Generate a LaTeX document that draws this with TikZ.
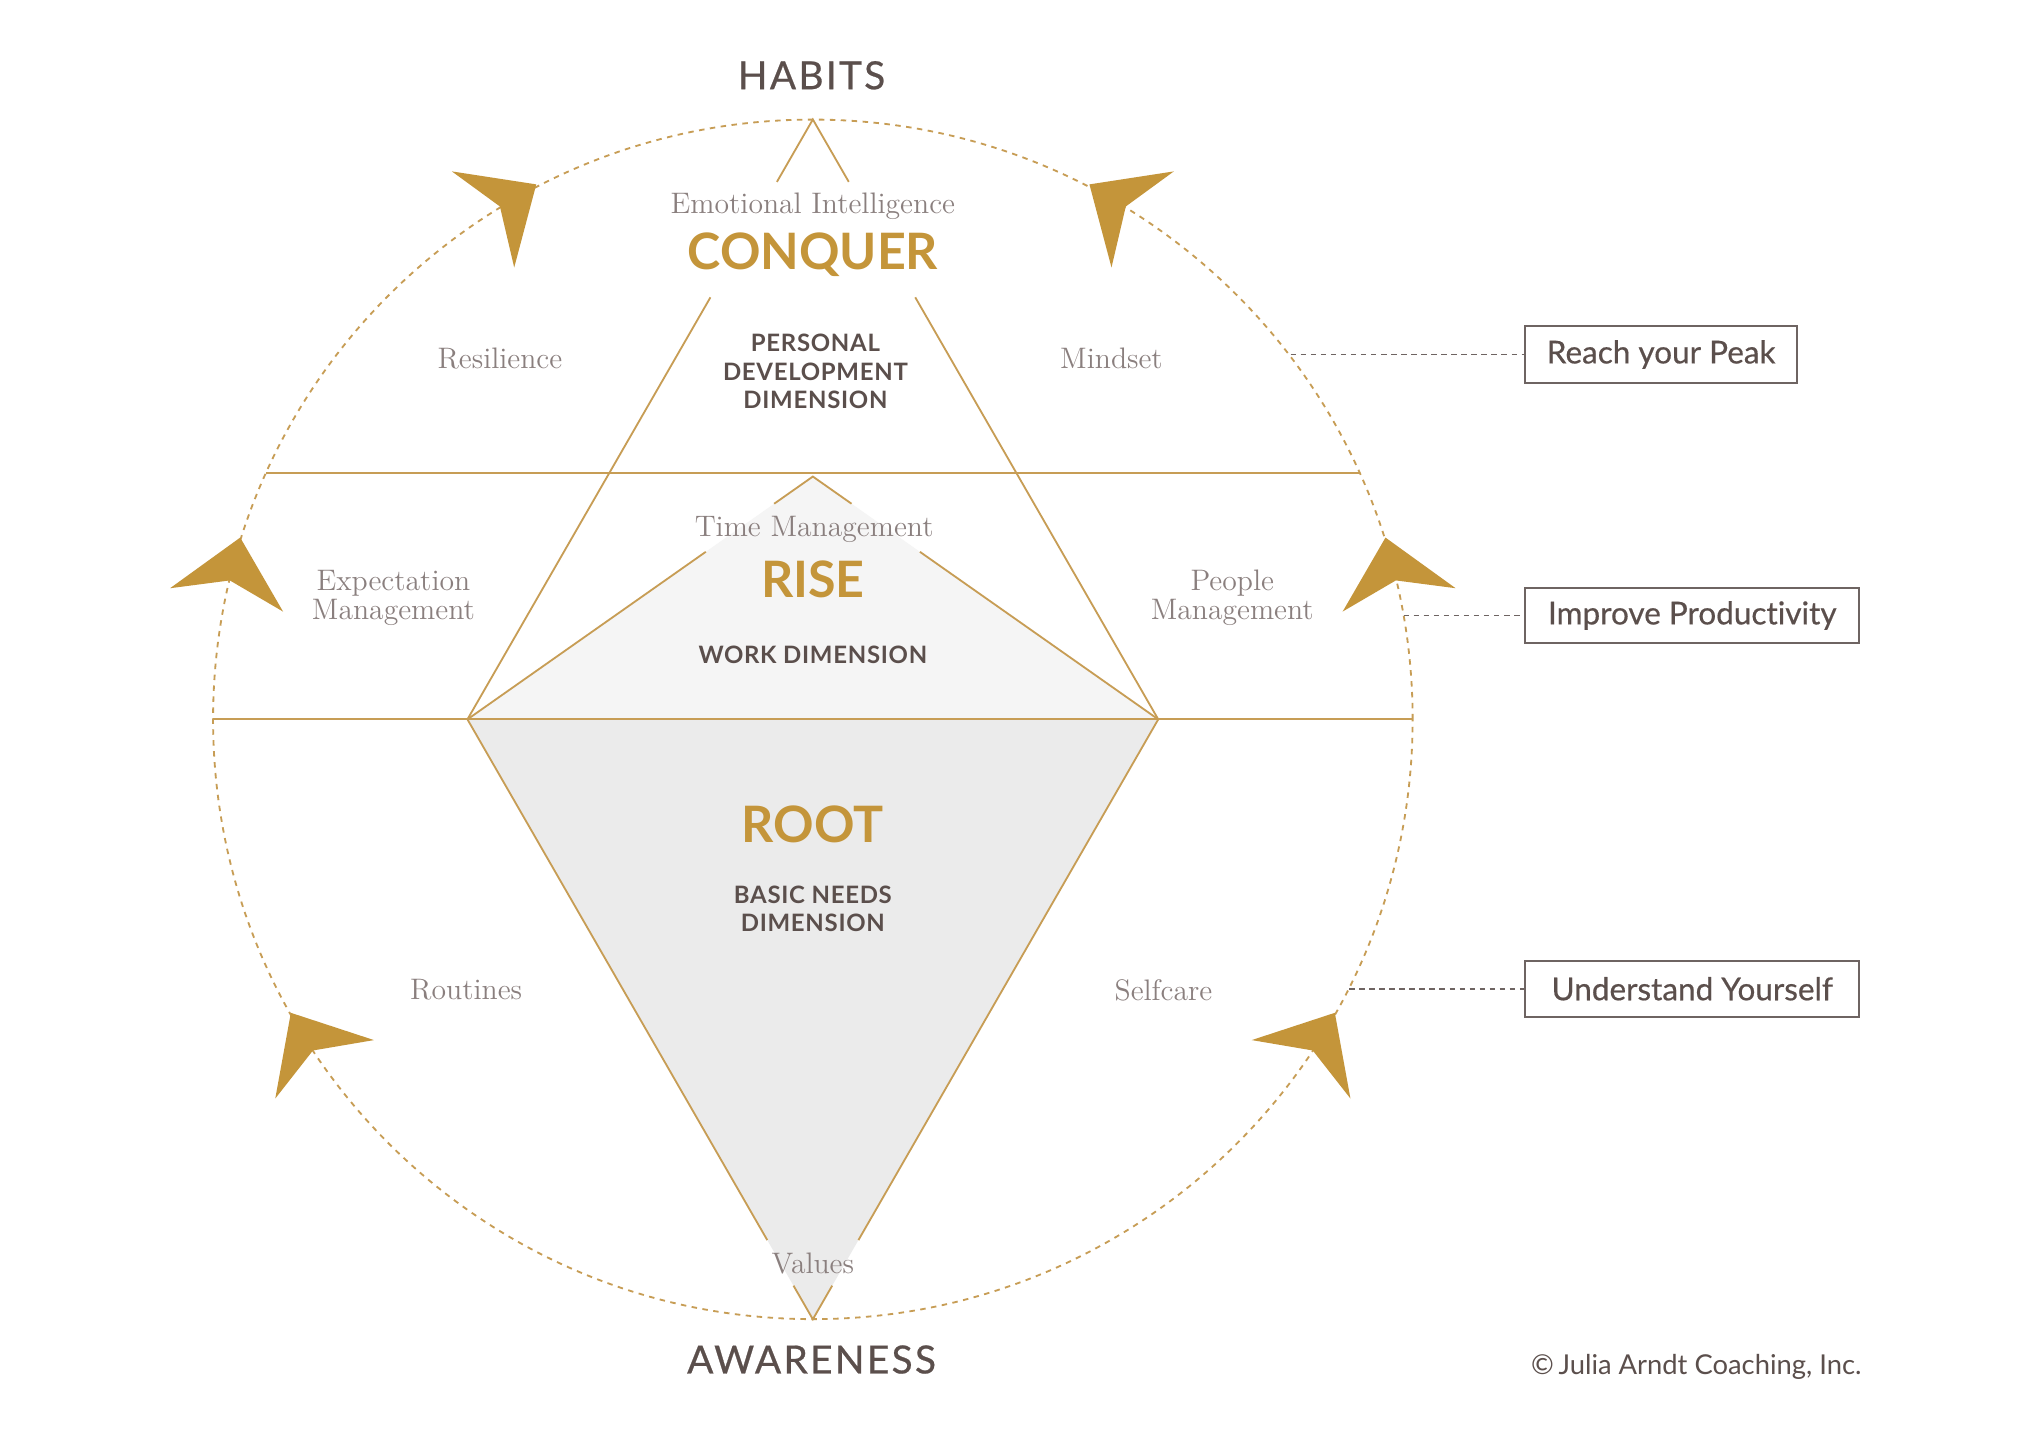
\documentclass[tikz,border=0pt]{standalone}
\usepackage{fontspec}
\newfontfamily\hsans{Lato}[Ligatures=NoCommon]
\newfontfamily\hsanssemi{Lato}[FakeBold=0.5,Ligatures=NoCommon]
\newfontfamily\hsanswide{Lato}[FakeBold=0.6,LetterSpace=6]
\newfontfamily\hsansdim{Lato Bold}[LetterSpace=3]
\usetikzlibrary{calc}
\definecolor{gold}{HTML}{C4953A}
\definecolor{goldline}{HTML}{C79D55}
\definecolor{dark}{HTML}{5B4F4C}
\definecolor{serifgray}{HTML}{8A7F7E}
\definecolor{boxgray}{HTML}{6E6462}
\definecolor{risefill}{HTML}{F5F5F5}
\definecolor{rootfill}{HTML}{EBEBEB}
\begin{document}
\begin{tikzpicture}[x=0.02cm,y=-0.02cm,
  goldedge/.style={draw=goldline,line width=0.8pt},
  ring/.style={draw=goldline,line width=0.8pt,dash pattern=on 2.4pt off 2.4pt},
  leader/.style={draw=boxgray,line width=0.75pt,dash pattern=on 2.4pt off 2pt},
  tag/.style={draw=boxgray,line width=0.9pt,font=\hsanssemi\fontsize{13.8}{15}\selectfont,text=dark,anchor=west,inner sep=0pt},
  flow/.style={fill=gold},
  big/.style={font=\hsans\bfseries\fontsize{22}{24}\selectfont,text=gold,inner sep=0pt},
  dim/.style={font=\hsansdim\fontsize{10.5}{12.5}\selectfont,text=dark,align=center,inner sep=0pt},
  area/.style={font=\fontsize{13}{12.5}\selectfont,text=serifgray,align=center,inner sep=0pt},
  pole/.style={font=\hsanswide\fontsize{17}{19}\selectfont,text=dark,inner sep=0pt}
]
\useasboundingbox (0,0) rectangle (1568,1109);
\fill[white] (0,0) rectangle (1568,1109);

% key points
\coordinate (O) at (626,554);
\coordinate (A) at (626,92);
\coordinate (L) at (360,554);
\coordinate (R) at (892,554);
\coordinate (Ar) at (626,367);
\coordinate (B) at (626,1016);

% fills
\fill[rootfill] (L) -- (R) -- (B) -- cycle;
\fill[risefill] (L) -- (Ar) -- (R) -- cycle;

% dashed ring
\draw[ring] (O) circle [radius=9.24cm];

% horizontal bands
\coordinate (h1l) at (205,364);
\coordinate (h1r) at (1047,364);
\coordinate (h2l) at (164,554);
\coordinate (h2r) at (1088,554);
\draw[goldedge] (h1l) -- (h1r);
\draw[goldedge] (h2l) -- (h2r);

% upper triangle (broken around the CONQUER text)
\draw[goldedge] ($(A)!0.104!(L)$) -- (A) -- ($(A)!0.104!(R)$);
\draw[goldedge] ($(A)!0.2965!(L)$) -- (L);
\draw[goldedge] ($(A)!0.2965!(R)$) -- (R);

% rise triangle (broken around Time Management)
\draw[goldedge] ($(Ar)!0.112!(L)$) -- (Ar) -- ($(Ar)!0.112!(R)$);
\draw[goldedge] ($(Ar)!0.31!(L)$) -- (L);
\draw[goldedge] ($(Ar)!0.31!(R)$) -- (R);

% root triangle (broken around Values)
\draw[goldedge] (L) -- ($(L)!0.868!(B)$);
\draw[goldedge] (R) -- ($(R)!0.868!(B)$);
\draw[goldedge] ($(L)!0.944!(B)$) -- (B) -- ($(R)!0.944!(B)$);

% arrowheads
\fill[flow] (413,142) -- (348,132) -- (385,159) -- (396,206) -- cycle;
\fill[flow] (839,142) -- (904,132) -- (867,159) -- (856,206) -- cycle;
\fill[flow] (185,414) -- (131,453) -- (177,447) -- (218,471) -- cycle;
\fill[flow] (1067,414) -- (1121,453) -- (1075,447) -- (1034,471) -- cycle;
\fill[flow] (224,780) -- (288,801) -- (241,809) -- (212,846) -- cycle;
\fill[flow] (1028,780) -- (964,801) -- (1011,809) -- (1040,846) -- cycle;

% poles
\node[pole] (habits) at (625,58) {HABITS};
\node[pole] (awareness) at (625,1047) {AWARENESS};

% conquer
\node[area] (ei) at (626,159) {Emotional Intelligence};
\node[big] (conquer) at (626,196) {CONQUER};
\node[dim] (pdd) at (628,286) {PERSONAL\\DEVELOPMENT\\DIMENSION};
\node[area] (resilience) at (385,276) {Resilience};
\node[area] (mindset) at (856,276) {Mindset};

% rise
\node[area] (tm) at (627,408) {Time Management};
\node[big] (rise) at (626,446) {RISE};
\node[dim] (wd) at (626,504) {WORK DIMENSION};
\node[area] (em) at (303,460.5) {Expectation\\Management};
\node[area] (pm) at (949,460.5) {People\\Management};

% root
\node[big] (root) at (626,635) {ROOT};
\node[dim] (bnd) at (626,700) {BASIC NEEDS\\DIMENSION};
\node[area] (routines) at (359,762) {Routines};
\node[area] (selfcare) at (896,763) {Selfcare};
\node[area] (values) at (626,973) {Values};

% outcome tags
\node[tag,minimum width=4.18cm,minimum height=0.88cm] (peak) at (1174,273) {Reach your Peak};
\node[tag,minimum width=5.14cm,minimum height=0.86cm] (prod) at (1174,474) {Improve Productivity};
\node[tag,minimum width=5.14cm,minimum height=0.86cm] (self) at (1174,761.5) {Understand Yourself};

\coordinate (c1) at (994,273);
\coordinate (c2) at (1081,474);
\coordinate (c3) at (1039,761.5);
\draw[leader] (c1) -- (peak.west);
\draw[leader] (c2) -- (prod.west);
\draw[leader] (c3) -- (self.west);

\node[font=\hsans\fontsize{12}{13}\selectfont,text=dark,anchor=east,inner sep=0pt] (copy) at (1434,1053) {\textcopyright\,Julia Arndt Coaching, Inc.};
\end{tikzpicture}
\end{document}
